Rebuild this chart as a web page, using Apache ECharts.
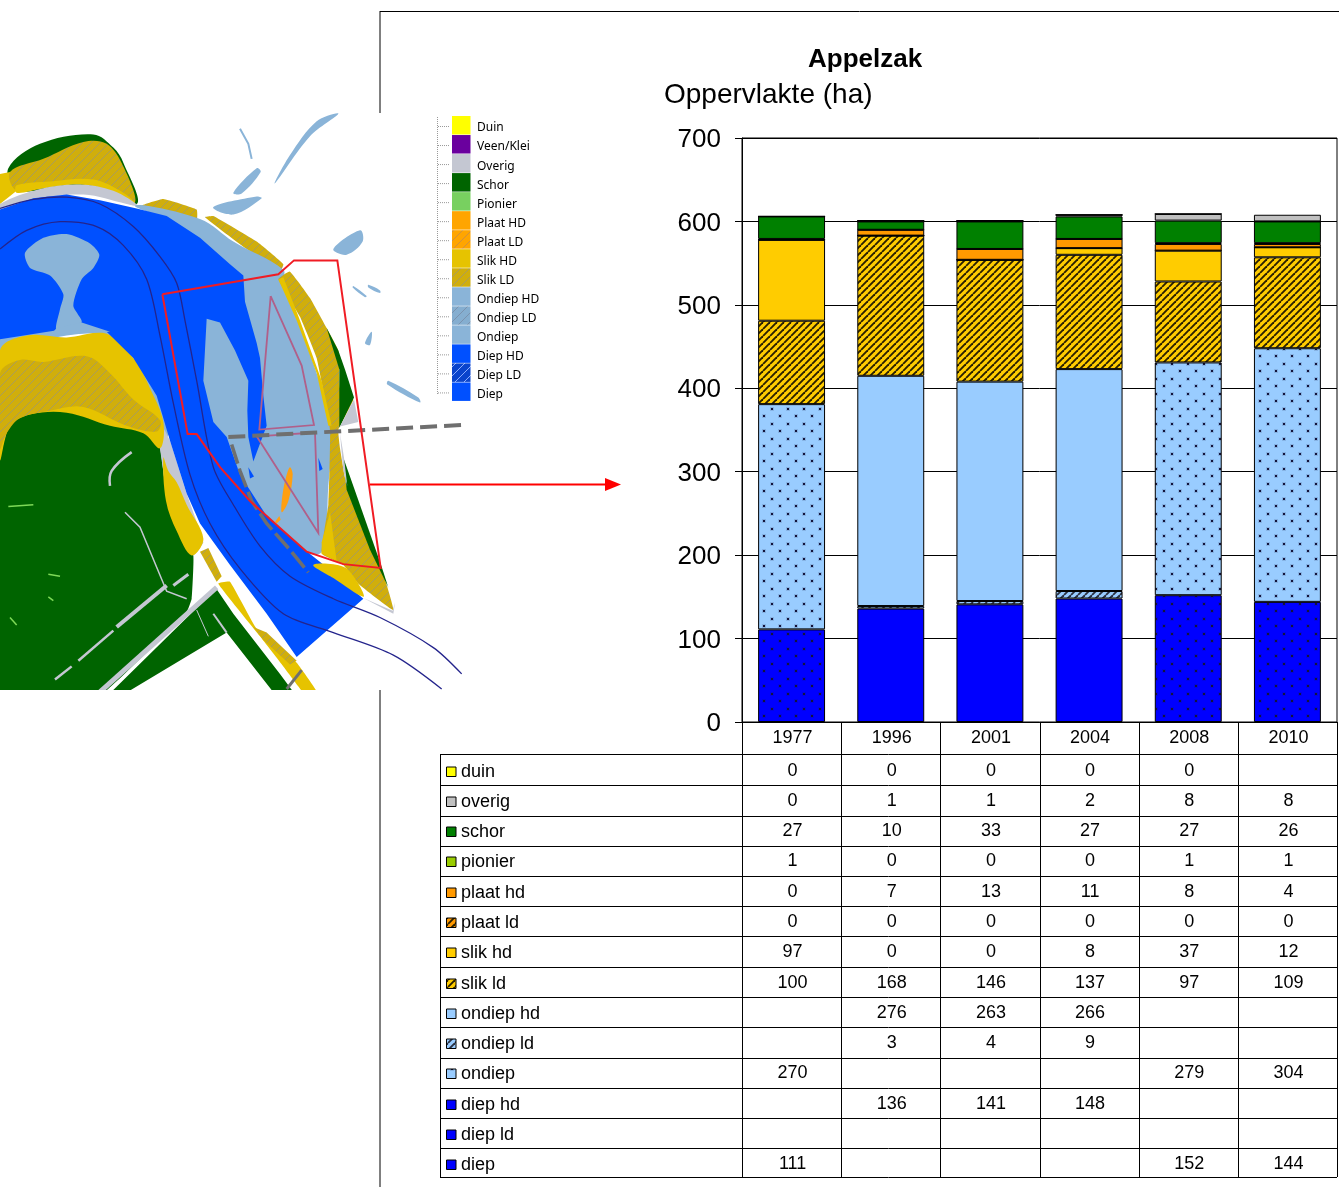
<!DOCTYPE html>
<html>
<head>
<meta charset="utf-8">
<style>html,body{margin:0;padding:0;background:#fff}#chart{width:1339px;height:1187px}</style>
<script src="https://cdn.jsdelivr.net/npm/echarts@6/dist/echarts.min.js"></script>
</head>
<body>
<div id="chart"></div>
<script>
var years = ['1977', '1996', '2001', '2004', '2008', '2010'];
var yTicks = [0, 100, 200, 300, 400, 500, 600, 700];

var duin     = [0, 0, 0, 0, 0, null];
var overig   = [0, 1, 1, 2, 8, 8];
var schor    = [27, 10, 33, 27, 27, 26];
var pionier  = [1, 0, 0, 0, 1, 1];
var plaatHd  = [0, 7, 13, 11, 8, 4];
var plaatLd  = [0, 0, 0, 0, 0, 0];
var slikHd   = [97, 0, 0, 8, 37, 12];
var slikLd   = [100, 168, 146, 137, 97, 109];
var ondiepHd = [null, 276, 263, 266, null, null];
var ondiepLd = [null, 3, 4, 9, null, null];
var ondiep   = [270, null, null, null, 279, 304];
var diepHd   = [null, 136, 141, 148, null, null];
var diepLd   = [null, null, null, null, null, null];
var diep     = [111, null, null, null, 152, 144];

var mapLegend = ['Duin', 'Veen/Klei', 'Overig', 'Schor', 'Pionier', 'Plaat HD', 'Plaat LD', 'Slik HD', 'Slik LD', 'Ondiep HD', 'Ondiep LD', 'Ondiep', 'Diep HD', 'Diep LD', 'Diep'];

function tile(w, h, draw) {
    var c = document.createElement('canvas');
    c.width = w; c.height = h;
    draw(c.getContext('2d'));
    return {image: c, repeat: 'repeat'};
}
function hatch(bg, fg, s, lw) {
    return tile(s, s, function (g) {
        g.fillStyle = bg; g.fillRect(0, 0, s, s);
        g.strokeStyle = fg; g.lineWidth = lw;
        [-s, 0, s].forEach(function (d) {
            g.beginPath(); g.moveTo(d, s); g.lineTo(d + s, 0); g.stroke();
        });
    });
}
function dots(bg) {
    return tile(16, 15, function (g) {
        g.fillStyle = bg; g.fillRect(0, 0, 16, 15);
        g.fillStyle = 'rgba(20,20,60,0.14)';
        g.fillRect(2, 2, 4, 4);
        g.fillRect(10, 9, 4, 4);
        g.fillStyle = '#14143c';
        g.fillRect(3, 3, 2, 2);
        g.fillRect(11, 10, 2, 2);
    });
}

// top of the stack first, same order as the table rows
var rows = [
    {name: 'duin', data: duin, fill: '#ffff00'},
    {name: 'overig', data: overig, fill: '#c0c0c0'},
    {name: 'schor', data: schor, fill: '#008000'},
    {name: 'pionier', data: pionier, fill: '#99cc00'},
    {name: 'plaat hd', data: plaatHd, fill: '#ff9900'},
    {name: 'plaat ld', data: plaatLd, fill: hatch('#ff9900', '#2a2000', 7, 1.9)},
    {name: 'slik hd', data: slikHd, fill: '#ffcc00'},
    {name: 'slik ld', data: slikLd, fill: hatch('#ffcc00', '#2a2000', 7, 1.9)},
    {name: 'ondiep hd', data: ondiepHd, fill: '#99ccff'},
    {name: 'ondiep ld', data: ondiepLd, fill: hatch('#99ccff', '#2a3040', 7, 1.9)},
    {name: 'ondiep', data: ondiep, fill: dots('#99ccff')},
    {name: 'diep hd', data: diepHd, fill: '#0000ff'},
    {name: 'diep ld', data: diepLd, fill: '#0000ff'},
    {name: 'diep', data: diep, fill: dots('#0000ff')}
];

var chart = echarts.init(document.getElementById('chart'));
var font = '"Liberation Sans", Arial, sans-serif';

chart.setOption({
    animation: false,
    title: [
        {text: 'Appelzak', left: 808, top: 47, padding: 0, textStyle: {fontFamily: font, fontSize: 26, fontWeight: 'bold', color: '#000'}},
        {text: 'Oppervlakte (ha)', left: 664, top: 81, padding: 0, textStyle: {fontFamily: font, fontSize: 28, fontWeight: 'normal', color: '#000'}}
    ],
    grid: {left: 742, right: 2, top: 138, bottom: 465, show: true, borderColor: '#000', borderWidth: 1},
    xAxis: {
        type: 'category',
        data: years,
        axisLine: {lineStyle: {color: '#000'}},
        axisTick: {show: false},
        axisLabel: {fontFamily: font, fontSize: 18, color: '#000', margin: 7, padding: [0, 0, 0, 2]}
    },
    yAxis: {
        type: 'value',
        min: yTicks[0],
        max: yTicks[yTicks.length - 1],
        interval: 100,
        axisLine: {show: true, lineStyle: {color: '#000'}},
        axisTick: {show: true, length: 7, lineStyle: {color: '#000'}},
        axisLabel: {
            margin: 21,
            formatter: '{a|{value}}',
            rich: {a: {fontFamily: font, fontSize: 26, color: '#000', padding: [4, 0, 0, 0]}}
        },
        splitLine: {lineStyle: {color: '#000', width: 1}}
    },
    series: rows.slice().reverse().map(function (r) {
        return {
            name: r.name,
            type: 'bar',
            stack: 'opp',
            barWidth: '67.5%',
            data: r.data,
            itemStyle: {color: r.fill, borderColor: '#000', borderWidth: 1}
        };
    })
});

// --- map and table are drawn on top of the chart as plain shapes ---
var g = [];
function z(pts) { // map coords
    return pts.map(function (p) { return [p[0] / 3, p[1] / 2.66 + 110]; });
}
function poly(pts, fill, smooth) {
    g.push({type: 'polygon', silent: true, shape: {points: z(pts), smooth: smooth === undefined ? 0.35 : smooth}, style: {fill: fill}});
}
function line(pts, color, w, dash, smooth) {
    g.push({type: 'polyline', silent: true, shape: {points: z(pts), smooth: smooth || 0},
        style: {stroke: color, lineWidth: w, lineDash: dash || null, fill: null}});
}
function seg(x1, y1, x2, y2, color, w) {
    g.push({type: 'line', silent: true, shape: {x1: x1, y1: y1, x2: x2, y2: y2}, style: {stroke: color || '#000', lineWidth: w || 1}});
}
function label(s, x, y, size, align, family) {
    g.push({type: 'text', silent: true, x: x, y: y, style: {text: s, fontFamily: family || font, fontSize: size, fill: '#000', align: align || 'left', verticalAlign: 'middle'}});
}

var cDiep = '#0050ff', cOnd = '#8ab4d8', cSlik = '#e6c300', cGreen = '#006400', cGrey = '#c4c7d2';
var pSlik = hatch('#d0ae0c', '#a89c5c', 9, 1);

// green land
poly([[0,930],[30,825],[90,785],[200,785],[330,825],[430,850],[480,900],[490,960],[500,1030],[540,1100],[580,1185],[575,1300],[560,1335],[295,1560],[0,1560]], cGreen, 0.1);
poly([[590,1325],[650,1275],[700,1340],[840,1500],[890,1560],[830,1560],[680,1390],[360,1560],[320,1560]], cGreen, 0);
// top bank
poly([[25,155],[120,90],[280,65],[340,100],[370,140],[410,250],[250,200],[50,215]], cGreen);
poly([[0,170],[30,165],[50,215],[0,250]], cSlik, 0);
poly([[30,165],[130,130],[250,85],[320,90],[370,150],[405,245],[330,210],[250,195],[130,205],[50,215]], pSlik);
poly([[50,200],[150,190],[280,185],[370,220],[405,248],[330,215],[240,198],[120,210],[50,220]], cSlik);
poly([[0,250],[120,210],[240,198],[340,215],[415,255],[380,250],[250,225],[100,240],[0,270]], cGrey);
poly([[425,255],[490,237],[590,265],[590,295],[500,282]], pSlik, 0.1);
poly([[615,285],[640,282],[770,350],[850,410],[840,430],[740,370]], pSlik, 0.1);
// west bank
poly([[0,590],[200,572],[330,585],[430,670],[510,850],[480,880],[400,660],[320,600],[200,600],[0,640]], cOnd);
poly([[480,830],[510,880],[560,1020],[610,1150],[580,1185],[540,1100],[500,1030],[490,960],[480,900]], cGrey, 0.1);
poly([[0,640],[80,600],[200,605],[320,595],[400,660],[450,740],[490,830],[480,900],[430,860],[330,840],[200,805],[90,810],[30,840],[0,930]], cSlik);
poly([[0,700],[60,665],[130,670],[260,655],[330,700],[400,770],[480,825],[470,855],[380,840],[250,790],[150,800],[60,820],[20,860],[0,900]], pSlik);
poly([[490,925],[505,960],[530,990],[560,1050],[610,1140],[575,1185],[530,1120],[498,1040]], cSlik);
// south bank strip
poly([[600,1175],[625,1165],[665,1240],[650,1255]], pSlik, 0);
poly([[655,1260],[690,1255],[770,1380],[890,1470],[960,1560],[920,1560],[850,1480],[780,1400]], cSlik, 0.1);
poly([[760,1375],[800,1390],[890,1465],[870,1475],[790,1410]], pSlik, 0);
// east ondiep, runs under the river so the island shows through
poly([[405,255],[600,290],[700,350],[850,425],[850,460],[890,550],[950,700],[995,830],[985,1000],[965,1175],[900,1170],[680,1010],[580,800],[560,340]], cOnd);
// river
poly([[0,265],[100,235],[200,225],[300,240],[410,262],[500,282],[600,340],[690,410],[730,440],[735,510],[770,620],[780,660],[790,760],[800,840],[760,935],[745,870],[742,800],[745,720],[705,640],[660,565],[620,555],[610,720],[640,830],[680,870],[720,970],[800,1080],[900,1160],[1000,1230],[1090,1300],[890,1455],[800,1340],[690,1210],[600,1100],[560,1020],[510,880],[470,760],[400,660],[320,590],[240,575],[200,582],[0,610]], cDiep, 0);
// bar in the bend
poly([[75,380],[130,340],[200,330],[270,355],[298,385],[280,420],[245,450],[220,520],[245,565],[170,585],[180,530],[190,490],[150,440],[90,420]], cOnd, 0.25);
poly([[170,580],[245,565],[330,590],[150,600]], cOnd, 0);
// east bank
poly([[835,450],[870,430],[930,500],[980,580],[1015,640],[1020,740],[1060,770],[1015,850],[1020,900],[1040,1000],[1100,1130],[1145,1220],[1180,1330],[1075,1260],[1030,1210],[965,1180],[985,1050],[990,850],[950,660],[900,550]], pSlik, 0.1);
poly([[835,450],[850,445],[900,560],[965,720],[995,840],[985,840],[950,700],[890,560]], cSlik, 0);
poly([[980,580],[1015,640],[1035,690],[1062,765],[1018,845],[1018,690]], cGreen, 0);
poly([[1030,925],[1060,1000],[1145,1215],[1165,1270],[1110,1170],[1040,1010]], cGreen, 0);
poly([[1062,770],[1075,830],[1020,842]], cGrey, 0);
poly([[1020,860],[1032,925],[1042,1000],[1030,960]], cGrey, 0);
poly([[940,1210],[1030,1215],[1075,1260],[1090,1295],[1000,1245]], cSlik);
poly([[965,1150],[990,1070],[1010,1200],[965,1180]], cSlik, 0);
poly([[1090,1298],[1180,1340],[1185,1310],[1178,1332]], cGrey, 0);
// orange bits
poly([[870,950],[878,970],[865,1040],[845,1070],[848,1020],[860,970]], '#ff9f10');
poly([[825,1095],[838,1080],[842,1090],[830,1100]], '#ff9f10', 0);
// little water pockets
poly([[955,925],[968,955],[958,960]], cDiep, 0);
poly([[745,950],[762,975],[750,980]], cDiep, 0);
// roads
line([[650,1270],[290,1556]], cGrey, 5);
line([[330,1000],[335,960],[395,910]], cGrey, 2.5, null, 0.4);
line([[375,1070],[420,1110],[500,1280],[560,1300]], cGrey, 1.5);
line([[350,1375],[500,1265]], cGrey, 4);
line([[565,1235],[520,1265]], cGrey, 3);
line([[165,1515],[215,1480]], cGrey, 2.5);
line([[235,1465],[340,1385]], cGrey, 2.5);
line([[590,1330],[625,1400]], cGrey, 1);
line([[640,1340],[680,1390]], cGrey, 2);
line([[25,1055],[100,1050]], '#7ed957', 1.5);
line([[30,1350],[50,1370]], '#7ed957', 1.5);
line([[145,1235],[180,1240]], '#7ed957', 1.5);
line([[145,1295],[160,1305]], '#7ed957', 1.5);
// flecks up north
poly([[700,220],[770,155],[782,165],[725,222]], cOnd);
poly([[825,195],[930,70],[1015,10],[950,30],[870,120]], cOnd);
poly([[640,258],[770,230],[785,235],[700,278]], cOnd);
poly([[1000,370],[1080,320],[1088,350],[1040,385]], cOnd);
poly([[1060,468],[1100,495],[1095,498],[1058,472]], cOnd);
poly([[1105,465],[1140,480],[1140,487],[1105,472]], cOnd);
poly([[1095,620],[1115,590],[1110,625]], cOnd);
poly([[1165,720],[1255,765],[1260,778],[1162,730]], cOnd);
line([[720,50],[745,90],[755,130]], cOnd, 2);
// channel lines
line([[0,262],[100,238],[200,232],[300,250],[400,310],[480,390],[530,460],[555,560],[590,720],[640,950],[700,1050],[780,1160],[870,1240],[1000,1300],[1140,1350],[1300,1430],[1385,1500]], '#24248c', 1.3, null, 0.3);
line([[0,370],[80,320],[180,297],[290,310],[370,360],[440,450],[480,600],[520,780],[570,970],[630,1100],[720,1220],[850,1340],[1000,1390],[1180,1450],[1325,1540]], '#24248c', 1.3, null, 0.3);
// mauve outlines
line([[812,495],[905,680],[942,838],[778,850],[812,495]], '#b0608a', 1.8);
line([[770,868],[945,858],[955,1125],[770,868]], '#b0608a', 1.8);
// dashed grey lines
line([[685,870],[1385,838]], '#6f6f6f', 4, [17, 7]);
line([[695,890],[720,960],[755,1040],[800,1100],[870,1170],[925,1230]], '#6f6f6f', 3.5, [20, 5]);
line([[860,1540],[905,1490]], '#6f6f6f', 3);
// red outline and arrow
line([[487,490],[835,437],[882,400],[1012,400],[1142,1218],[1030,1208],[920,1175],[850,1120],[750,1040],[660,950],[590,862],[563,862],[487,490]], '#f01c24', 2);
seg(370, 484.5, 606, 484.5, '#ff0000', 2);
g.push({type: 'polygon', silent: true, shape: {points: [[605, 478], [621, 484.5], [605, 491]]}, style: {fill: '#ff0000'}});

// crop the map at its bottom edge, then the frame
g.push({type: 'rect', silent: true, shape: {x: 0, y: 690, width: 440, height: 30}, style: {fill: '#fff'}});
seg(380, 11, 380, 113); seg(380, 690, 380, 1187); seg(380, 11.5, 1339, 11.5);

// map legend
var swatch = ['#ffff00', '#6a009e', '#c4c7d2', '#006400', '#78d060', '#ffa500', hatch('#ffa500', '#d09040', 9, 1), '#e6c300', pSlik, cOnd, hatch('#85aed0', '#7a92ae', 9, 1), cOnd, cDiep, hatch('#0a44cc', '#88aaff', 9, 1), cDiep];
var mapDots = {stroke: '#999', lineWidth: 1, lineDash: [1, 1]};
g.push({type: 'line', silent: true, shape: {x1: 437.5, y1: 117, x2: 437.5, y2: 394}, style: mapDots});
mapLegend.forEach(function (s, i) {
    var y = 116 + i * 19.03;
    g.push({type: 'line', silent: true, shape: {x1: 438, y1: y + 10.5, x2: 449, y2: y + 10.5}, style: mapDots});
    g.push({type: 'rect', silent: true, shape: {x: 452, y: y, width: 18.5, height: 18.5}, style: {fill: swatch[i]}});
    label(s, 477, 128 + i * 19.07, 12, 'left', '"Noto Sans", sans-serif');
});

// data table below the bars
var rowLines = [754, 785, 816, 846, 876, 906, 936, 967, 997, 1027, 1058, 1088, 1118, 1148, 1177];
var valueY = [771, 801, 831, 861, 892, 922, 952, 983, 1013, 1043, 1073, 1104, 1134, 1164];
var centers = years.map(function (y) { return chart.convertToPixel({xAxisIndex: 0}, y); });
var step = centers[1] - centers[0];

rowLines.forEach(function (y) { seg(440, y + 0.5, 1337, y + 0.5, '#000'); });
seg(440.5, 754, 440.5, 1177, '#000');
for (var c = 0; c <= years.length; c++) {
    var x = Math.round(centers[0] - step / 2 + c * step) + 0.5;
    seg(x, 722, x, 1177, '#000');
}
rows.forEach(function (r, i) {
    var cy = valueY[i];
    g.push({type: 'rect', silent: true, shape: {x: 446.5, y: cy - 4, width: 9.5, height: 9.5}, style: {fill: r.fill, stroke: '#000', lineWidth: 1}});
    label(r.name, 461, cy + 1, 18);
    r.data.forEach(function (v, k) {
        if (v !== null) label(String(v), centers[k] + 1, cy, 18, 'center');
    });
});

chart.setOption({graphic: g});
</script>
</body>
</html>
